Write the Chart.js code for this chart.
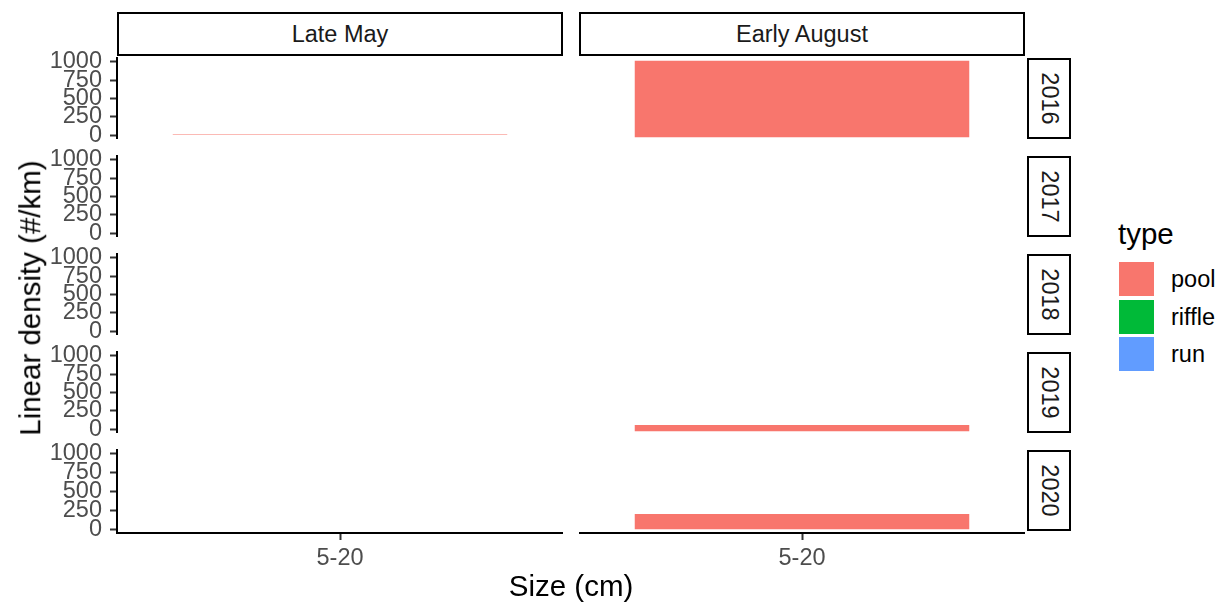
<!DOCTYPE html>
<html>
<head>
<meta charset="utf-8">
<script src="https://cdn.jsdelivr.net/npm/chart.js@4.4.1/dist/chart.umd.min.js"></script>
<style>
  body { margin: 0; background: #fff; font-family: 'Liberation Sans', Arial, sans-serif; }
  #wrap { position: relative; width: 1222px; height: 604px; overflow: hidden; }
  canvas { position: absolute; }
  .strip { position: absolute; box-sizing: border-box; border: 2px solid #000; background: #fff;
           color: #1a1a1a; font-size: 23.5px; display: flex; align-items: center; justify-content: center; }
  .strip span { white-space: nowrap; }
  .rowstrip span { transform: rotate(90deg); }
  .title { position: absolute; font-size: 29.5px; color: #000; white-space: nowrap; line-height: 1; }
  .key { position: absolute; width: 35px; height: 34px; }
  .keylab { position: absolute; font-size: 23.5px; color: #000; line-height: 34px; }
</style>
</head>
<body>
<div id="wrap"></div>
<script>
// facets and categories
const years = ['2016', '2017', '2018', '2019', '2020'];
const periods = ['Late May', 'Early August'];
const sizeLabels = ['5-20'];
const types = ['pool', 'riffle', 'run'];
const typeColors = ['#F8766D', '#00BA38', '#619CFF'];
const yTicks = [0, 250, 500, 750, 1000];

// linear density (#/km) by year 2016..2020, one array per period and type
const poolLateMay = [15, null, null, null, null];
const riffleLateMay = [null, null, null, null, null];
const runLateMay = [null, null, null, null, null];
const poolEarlyAug = [990, null, null, 80, 195];
const riffleEarlyAug = [null, null, null, null, null];
const runEarlyAug = [null, null, null, null, null];

const seriesByPeriod = [
	[poolLateMay, riffleLateMay, runLateMay],
	[poolEarlyAug, riffleEarlyAug, runEarlyAug]
];

// layout
const wrap = document.getElementById('wrap');
const fontFamily = "'Liberation Sans', Arial, sans-serif";
const colLeft = [117, 579];
const panelW = 446, panelH = 85, rowStep = 98, firstTop = 56;
const padTop = 20, padBottom = 20, xAxisH = 60, yAxisW = 117;

function addDiv(cls, css, html) {
	const d = document.createElement('div');
	d.className = cls;
	Object.assign(d.style, css);
	d.innerHTML = html;
	wrap.appendChild(d);
	return d;
}

periods.forEach((period, c) => {
	// column strip
	addDiv('strip', { left: colLeft[c] + 'px', top: '12px', width: panelW + 'px', height: '44px' },
		'<span>' + period + '</span>');

	years.forEach((year, r) => {
		const isLeft = c === 0;
		const isBottom = r === years.length - 1;
		const canvas = document.createElement('canvas');
		const left = isLeft ? colLeft[c] - yAxisW : colLeft[c];
		const width = isLeft ? panelW + yAxisW : panelW;
		const top = firstTop + rowStep * r - padTop;
		const height = padTop + panelH + (isBottom ? xAxisH : padBottom);
		canvas.width = width;
		canvas.height = height;
		canvas.style.left = left + 'px';
		canvas.style.top = top + 'px';
		wrap.appendChild(canvas);

		new Chart(canvas.getContext('2d'), {
			type: 'bar',
			data: {
				labels: sizeLabels,
				datasets: types.map((t, k) => ({
					label: t,
					data: [seriesByPeriod[c][k][r]],
					backgroundColor: typeColors[k],
					borderWidth: 0,
					barPercentage: 0.75,
					categoryPercentage: 1
				}))
			},
			options: {
				responsive: false,
				animation: false,
				layout: { padding: { top: padTop, bottom: isBottom ? 0 : padBottom, left: 0, right: 0 } },
				plugins: { legend: { display: false }, tooltip: { enabled: false } },
				scales: {
					x: {
						display: isBottom,
						stacked: true,
						offset: true,
						afterFit: s => { if (isBottom) s.height = xAxisH; },
						grid: { offset: false, drawOnChartArea: false, tickLength: 7, tickWidth: 2, tickColor: '#333333' },
						border: { display: true, color: '#000', width: 2 },
						ticks: { color: '#4D4D4D', font: { family: fontFamily, size: 23.5 }, padding: 4, maxRotation: 0 }
					},
					y: {
						display: isLeft,
						stacked: true,
						min: -50,
						max: 1050,
						afterBuildTicks: s => { s.ticks = yTicks.map(v => ({ value: v })); },
						afterFit: s => { if (isLeft) s.width = yAxisW; },
						grid: { drawOnChartArea: false, tickLength: 7, tickWidth: 2, tickColor: '#333333' },
						border: { display: true, color: '#000', width: 2 },
						ticks: { color: '#4D4D4D', font: { family: fontFamily, size: 23.5 }, padding: 8,
							autoSkip: false, callback: v => String(v) }
					}
				}
			}
		});

		// row strip, right of the last column
		if (c === periods.length - 1) {
			addDiv('strip rowstrip', { left: '1027px', top: (firstTop + rowStep * r + 2) + 'px', width: '44px', height: '81px' },
				'<span>' + year + '</span>');
		}
	});
});

// axis titles
addDiv('title', { left: '30px', top: '298px', transform: 'translate(-50%, -50%) rotate(-90deg)' },
	'Linear density (#/km)');
addDiv('title', { left: '571px', top: '586px', transform: 'translate(-50%, -50%)' }, 'Size (cm)');

// legend
addDiv('title', { left: '1118px', top: '219px' }, 'type');
types.forEach((t, k) => {
	const y = 262 + 37.5 * k;
	addDiv('key', { left: '1119px', top: y + 'px', background: typeColors[k] }, '');
	addDiv('keylab', { left: '1171px', top: y + 'px' }, t);
});
</script>
</body>
</html>
